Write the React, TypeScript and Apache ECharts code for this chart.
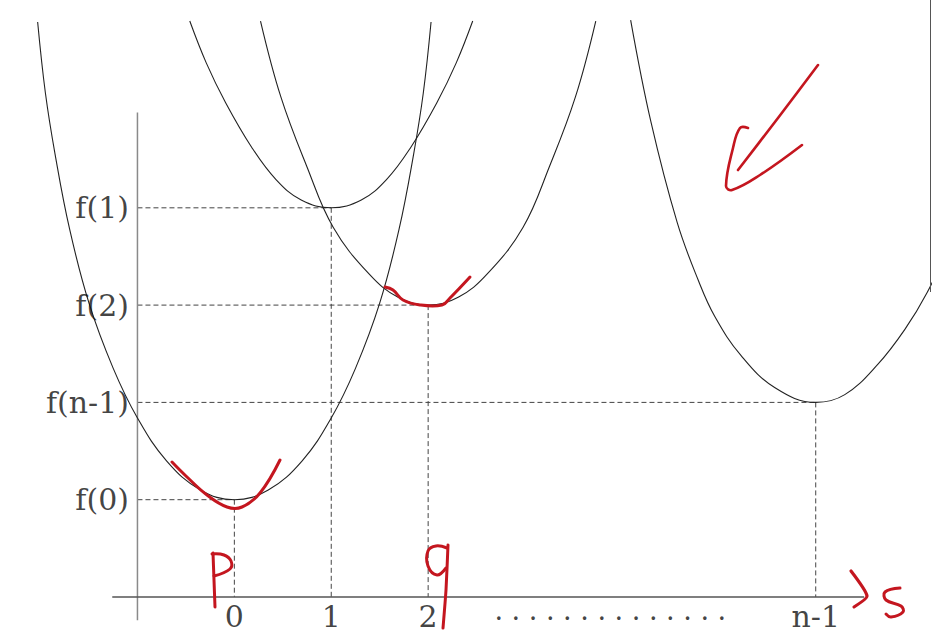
import React, { useEffect, useRef } from "react";
import * as echarts from "echarts";

// x positions of the minima (category positions) and their tick labels
const categories = ["0", "1", "2", "n-1"];
const categoryX = [0, 1, 2, 6];
// minimum values and labels
const minimaLabels = ["f(0)", "f(1)", "f(2)", "f(n-1)"];
const minimaY = [1, 4, 3, 2];
const dotsLabel = ". . . . . . . . . . . . . .";
const dotsX = 3.88;

// curves
const curve0: [number, number][] = [
  [-2.03, 5.91], [-1.95, 5.18], [-1.85, 4.55], [-1.7, 3.78], [-1.5, 3.02],
  [-1.25, 2.35], [-1.0, 1.84], [-0.7, 1.4], [-0.35, 1.1], [0, 1],
  [0.35, 1.1], [0.7, 1.4], [1.0, 1.84], [1.25, 2.35], [1.5, 3.02],
  [1.7, 3.78], [1.85, 4.55], [1.95, 5.18], [2.03, 5.91],
];
const curve1: [number, number][] = [
  [-0.46, 5.92], [-0.29, 5.49], [-0.09, 5.08], [0.18, 4.62], [0.43, 4.29],
  [0.69, 4.08], [1, 4], [1.31, 4.08], [1.57, 4.29], [1.82, 4.62],
  [2.09, 5.08], [2.29, 5.49], [2.46, 5.92],
];
const curve2: [number, number][] = [
  [0.27, 5.92], [0.48, 5.14], [0.75, 4.42], [1.02, 3.8], [1.39, 3.32],
  [1.69, 3.08], [2, 3], [2.31, 3.08], [2.61, 3.32], [2.98, 3.8],
  [3.25, 4.42], [3.52, 5.14], [3.73, 5.92],
];
const curveN: [number, number][] = [
  [4.09, 5.93], [4.3, 4.88], [4.57, 3.85], [4.79, 3.25], [4.96, 2.88],
  [5.23, 2.48], [5.58, 2.15], [6, 2], [6.3, 2.08], [6.64, 2.39],
  [6.92, 2.75], [7.15, 3.13], [7.34, 3.54],
];
// axis lines
const yAxisLine: [number, number][] = [[-1, -0.24], [-1, 4.98]];
const xAxisLine: [number, number][] = [[-1.26, 0], [6.5, 0]];
const yAxisX = -1;

const RED = "#c4161f";
const FONT = "DejaVu Serif";

function redLine(points: number[][], width = 3, smooth = 0.4) {
  return {
    type: "polyline",
    z: 100,
    silent: true,
    shape: { points, smooth },
    style: { stroke: RED, lineWidth: width, fill: "none", lineCap: "round", lineJoin: "round" },
  };
}

export default function App() {
  const ref = useRef<HTMLDivElement>(null);
  useEffect(() => {
    if (!ref.current) return;
    const chart = echarts.init(ref.current, undefined, { renderer: "svg" });
    const curveStyle = { color: "#222", width: 1.1 };
    const dashStyle = { color: "#444", width: 1, type: [5, 3] as any };
    const guides: any[] = [];
    categoryX.forEach((x, i) => {
      const y = minimaY[i];
      guides.push({
        type: "line",
        data: [[yAxisX, y], [x, y]],
        symbol: "none",
        lineStyle: dashStyle,
        z: 1,
      });
      guides.push({
        type: "line",
        data: [[x, y], [x, 0]],
        symbol: "none",
        lineStyle: dashStyle,
        z: 1,
      });
    });
    const curves = [curve0, curve1, curve2, curveN].map((c) => ({
      type: "line",
      data: c,
      symbol: "none",
      smooth: 0.4,
      lineStyle: curveStyle,
      z: 3,
    }));
    chart.setOption({
      animation: false,
      backgroundColor: "#ffffff",
      grid: { left: 1.8, top: 3.5, width: 932.8, height: 632.4 },
      xAxis: {
        type: "value",
        min: -2.4,
        max: 7.2,
        show: false,
      },
      yAxis: {
        type: "value",
        min: -0.4,
        max: 6.1,
        show: false,
      },
      series: [
        ...guides,
        {
          type: "line",
          data: yAxisLine,
          symbol: "none",
          lineStyle: { color: "#8a8a8a", width: 1.5 },
          z: 2,
        },
        {
          type: "line",
          data: xAxisLine,
          symbol: "none",
          lineStyle: { color: "#555", width: 1.5 },
          z: 2,
        },
        ...curves,
        {
          type: "scatter",
          symbolSize: 1,
          itemStyle: { color: "transparent" },
          data: minimaY.map((y, i) => ({ value: [yAxisX, y], name: minimaLabels[i] })),
          label: {
            show: true,
            position: "left",
            distance: 8,
            formatter: "{b}",
            fontFamily: FONT,
            fontSize: 30,
            color: "#111",
          },
          z: 5,
        },
        {
          type: "scatter",
          symbolSize: 1,
          itemStyle: { color: "transparent" },
          data: categoryX.map((x, i) => ({ value: [x, 0], name: categories[i] })),
          label: {
            show: true,
            position: "bottom",
            distance: 4,
            formatter: "{b}",
            fontFamily: FONT,
            fontSize: 30,
            color: "#111",
          },
          z: 5,
        },
        {
          type: "scatter",
          symbolSize: 1,
          itemStyle: { color: "transparent" },
          data: [{ value: [dotsX, 0], name: dotsLabel }],
          label: {
            show: true,
            position: "bottom",
            distance: 0,
            formatter: "{b}",
            fontFamily: FONT,
            fontSize: 27,
            color: "#111",
          },
          z: 5,
        },
      ],
      graphic: [
        // red annotation under f(0)
        redLine([[172, 462], [187, 477], [207, 495], [227, 507], [242, 507], [260, 493], [280, 460]]),
        // red annotation at f(2)
        redLine([[385, 287], [393, 290], [403, 300], [420, 305], [442, 305], [450, 298], [470, 277]]),
        // P
        redLine([[213, 553], [214, 580], [215, 607]], 3, 0.2),
        redLine([[212, 554], [224, 555], [231, 561], [230, 569], [214, 576]], 3, 0.4),
        // q
        redLine([[447, 548], [436, 546], [428, 551], [428, 566], [437, 575], [446, 568]], 3, 0.4),
        redLine([[448, 545], [446, 590], [443, 628]], 3, 0.2),
        // >S
        redLine([[851, 571], [867, 596], [854, 607]], 3.2, 0.2),
        redLine([[900, 588], [885, 592], [886, 600], [901, 606], [903, 612], [891, 617], [886, 614]], 3, 0.4),
        // arrow
        redLine([[818, 65], [778, 118], [738, 170]], 2.6, 0.2),
        redLine([[748, 128], [740, 128], [733, 148], [726, 186], [732, 190], [760, 175], [802, 145]], 2.6, 0.4),
        // right frame edge
        {
          type: "line",
          z: 100,
          silent: true,
          shape: { x1: 930.5, y1: 0, x2: 930.5, y2: 292 },
          style: { stroke: "#555", lineWidth: 1 },
        },
      ],
    });
    return () => chart.dispose();
  }, []);
  return (
    <div
      ref={ref}
      style={{ position: "fixed", left: 0, top: 0, width: 932, height: 636, background: "#fff" }}
    />
  );
}
